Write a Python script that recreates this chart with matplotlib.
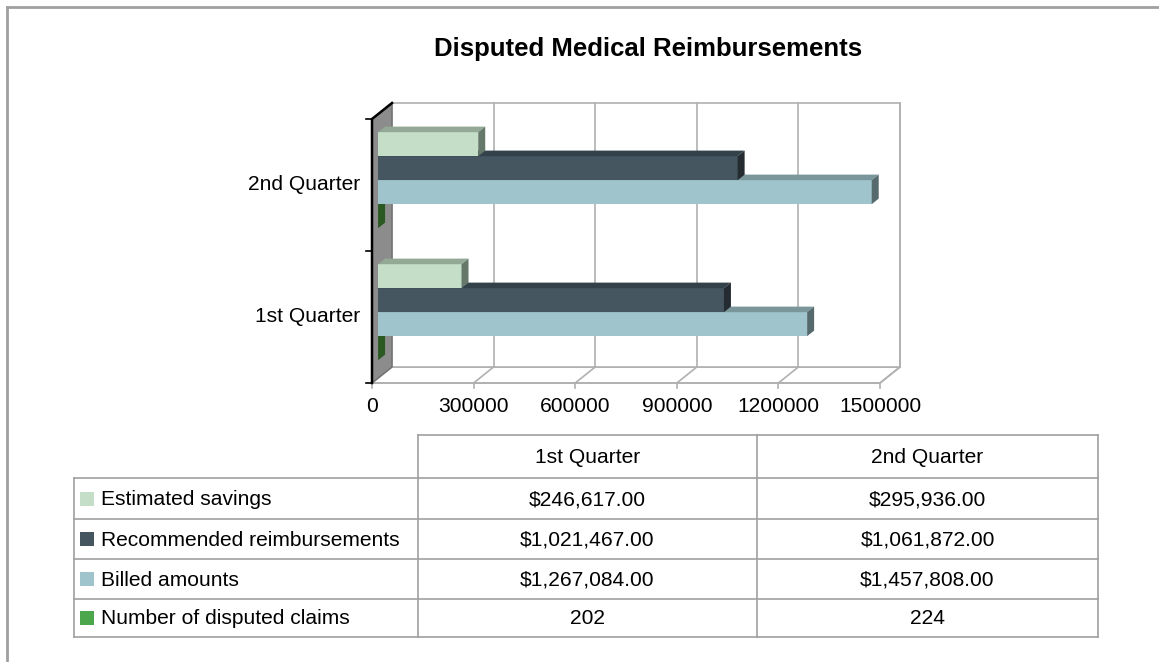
import matplotlib.pyplot as plt
from matplotlib.patches import Polygon, Rectangle
from matplotlib.lines import Line2D

plt.rcParams['font.family'] = ['Liberation Sans', 'DejaVu Sans']

# data
quarters = ["1st Quarter", "2nd Quarter"]
series_names = ["Estimated savings", "Recommended reimbursements", "Billed amounts", "Number of disputed claims"]
estimated_savings = [246617.00, 295936.00]
recommended_reimbursements = [1021467.00, 1061872.00]
billed_amounts = [1267084.00, 1457808.00]
disputed_claims = [202, 224]
x_ticks = [0, 300000, 600000, 900000, 1200000, 1500000]

# front, top, side colours per series
colors = {
    "Estimated savings": ("#C4DEC8", "#93A995", "#66786A"),
    "Recommended reimbursements": ("#455660", "#33414A", "#242C31"),
    "Billed amounts": ("#A0C4CC", "#7A969B", "#566A6E"),
    "Number of disputed claims": ("#4CA64C", "#387838", "#2A5A22"),
}
values = {
    "Estimated savings": estimated_savings,
    "Recommended reimbursements": recommended_reimbursements,
    "Billed amounts": billed_amounts,
    "Number of disputed claims": disputed_claims,
}

W, H = 1159, 662
FS = 15.1
fig = plt.figure(figsize=(W / 100, H / 100), dpi=100)


def fx(px):
    return px / W


def fy(py):
    return 1 - py / H


# front plane of the 3d box
left, right, top, bottom = 372, 880, 119, 383
ax = fig.add_axes([fx(left), fy(bottom), (right - left) / W, (bottom - top) / H])
xmax = x_ticks[-1]
ax.set_xlim(0, xmax)
ax.set_ylim(0, len(quarters))
ax.axis('off')

ppx = xmax / (right - left)          # data per pixel, x
ppy = len(quarters) / (bottom - top)  # data per pixel, y
Dx, Dy = 20 * ppx, 16 * ppy           # wall depth
fxo, fyo = 6 * ppx, 4.8 * ppy         # bar front offset
bx, by = 7 * ppx, 5.6 * ppy           # bar depth
h = 24 * ppy                           # bar thickness
ny = len(quarters)
grid_c = "#B0B0B0"

# floor, back wall, left wall
ax.add_patch(Polygon([(0, 0), (xmax, 0), (xmax + Dx, Dy), (Dx, Dy)], closed=True,
                     facecolor="white", edgecolor=grid_c, lw=1.2, clip_on=False, zorder=1))
ax.add_patch(Rectangle((Dx, Dy), xmax, ny, facecolor="white", edgecolor=grid_c, lw=1.2,
                       clip_on=False, zorder=1))
ax.add_patch(Polygon([(0, 0), (0, ny), (Dx, ny + Dy), (Dx, Dy)], closed=True,
                     facecolor="#8C8C8C", edgecolor="#707070", lw=1, clip_on=False, zorder=2))
ax.plot([0, 0, Dx], [0, ny, ny + Dy], color="black", lw=1.8, clip_on=False, zorder=3)

for t in x_ticks[1:]:
    ax.plot([t + Dx, t + Dx], [Dy, ny + Dy], color=grid_c, lw=1.2, clip_on=False, zorder=1)
    ax.plot([t, t + Dx], [0, Dy], color=grid_c, lw=1.2, clip_on=False, zorder=1)
ax.plot([0, xmax], [0, 0], color=grid_c, lw=1.2, clip_on=False, zorder=1)
for t in x_ticks:
    ax.plot([t, t], [0, -5 * ppy], color=grid_c, lw=1.2, clip_on=False, zorder=1)
    ax.text(t, -24 * ppy, str(t), ha="center", va="center", fontsize=FS, color="black")
for k in range(ny + 1):
    ax.plot([0, -6 * ppx], [k, k], color="black", lw=1.2, clip_on=False, zorder=3)
for i, q in enumerate(quarters):
    ax.text(-12 * ppx, i + 0.5, q, ha="right", va="center", fontsize=FS)

# bars, drawn bottom slot first so upper bars cover lower tops
draw_order = series_names[::-1]
for i in range(ny):
    c = i + 0.5
    for k, name in enumerate(draw_order):
        v = values[name][i]
        fc, tc, sc = colors[name]
        y0 = c - 2 * h + k * h + fyo
        x0 = fxo
        x1 = fxo + v
        ax.add_patch(Rectangle((x0, y0), v, h, facecolor=fc, lw=0, clip_on=False, zorder=5 + k))
        ax.add_patch(Polygon([(x0, y0 + h), (x1, y0 + h), (x1 + bx, y0 + h + by), (x0 + bx, y0 + h + by)],
                             closed=True, facecolor=tc, lw=0, clip_on=False, zorder=5 + k))
        ax.add_patch(Polygon([(x1, y0), (x1, y0 + h), (x1 + bx, y0 + h + by), (x1 + bx, y0 + by)],
                             closed=True, facecolor=sc, lw=0, clip_on=False, zorder=5 + k))

# title and chart border
fig.text(fx(648), fy(49), "Disputed Medical Reimbursements", ha="center", va="center",
         fontsize=18.5, fontweight="bold")
fig.add_artist(Line2D([fx(7), 1], [fy(7), fy(7)], color="#A0A0A0", lw=2))
fig.add_artist(Line2D([fx(7), fx(7)], [fy(7), 0], color="#A0A0A0", lw=2))

# data table
tab = fig.add_axes([0, 0, 1, 1], facecolor="none")
tab.set_xlim(0, W)
tab.set_ylim(H, 0)
tab.axis('off')
t_left, t_lab, t_mid, t_right = 74, 418, 757, 1098
rows = [435, 478, 519, 559, 599, 637]
lc = "#A0A0A0"
tab.plot([t_lab, t_right], [rows[0], rows[0]], color=lc, lw=1.2)
for r in rows[1:]:
    tab.plot([t_left, t_right], [r, r], color=lc, lw=1.2)
tab.plot([t_left, t_left], [rows[1], rows[-1]], color=lc, lw=1.2)
for xc in (t_lab, t_mid, t_right):
    tab.plot([xc, xc], [rows[0], rows[-1]], color=lc, lw=1.2)
col_centers = [(t_lab + t_mid) / 2, (t_mid + t_right) / 2]
for j, q in enumerate(quarters):
    tab.text(col_centers[j], (rows[0] + rows[1]) / 2 + 1, q, ha="center", va="center", fontsize=FS)
for r, name in enumerate(series_names):
    yc = (rows[r + 1] + rows[r + 2]) / 2
    tab.add_patch(Rectangle((80, yc - 7), 14, 14, facecolor=colors[name][0], lw=0))
    tab.text(101, yc + 1, name, ha="left", va="center", fontsize=FS)
    for j in range(len(quarters)):
        v = values[name][j]
        s = str(v) if name == "Number of disputed claims" else f"${v:,.2f}"
        tab.text(col_centers[j], yc + 1, s, ha="center", va="center", fontsize=FS)

fig.savefig("out.png", dpi=100)
